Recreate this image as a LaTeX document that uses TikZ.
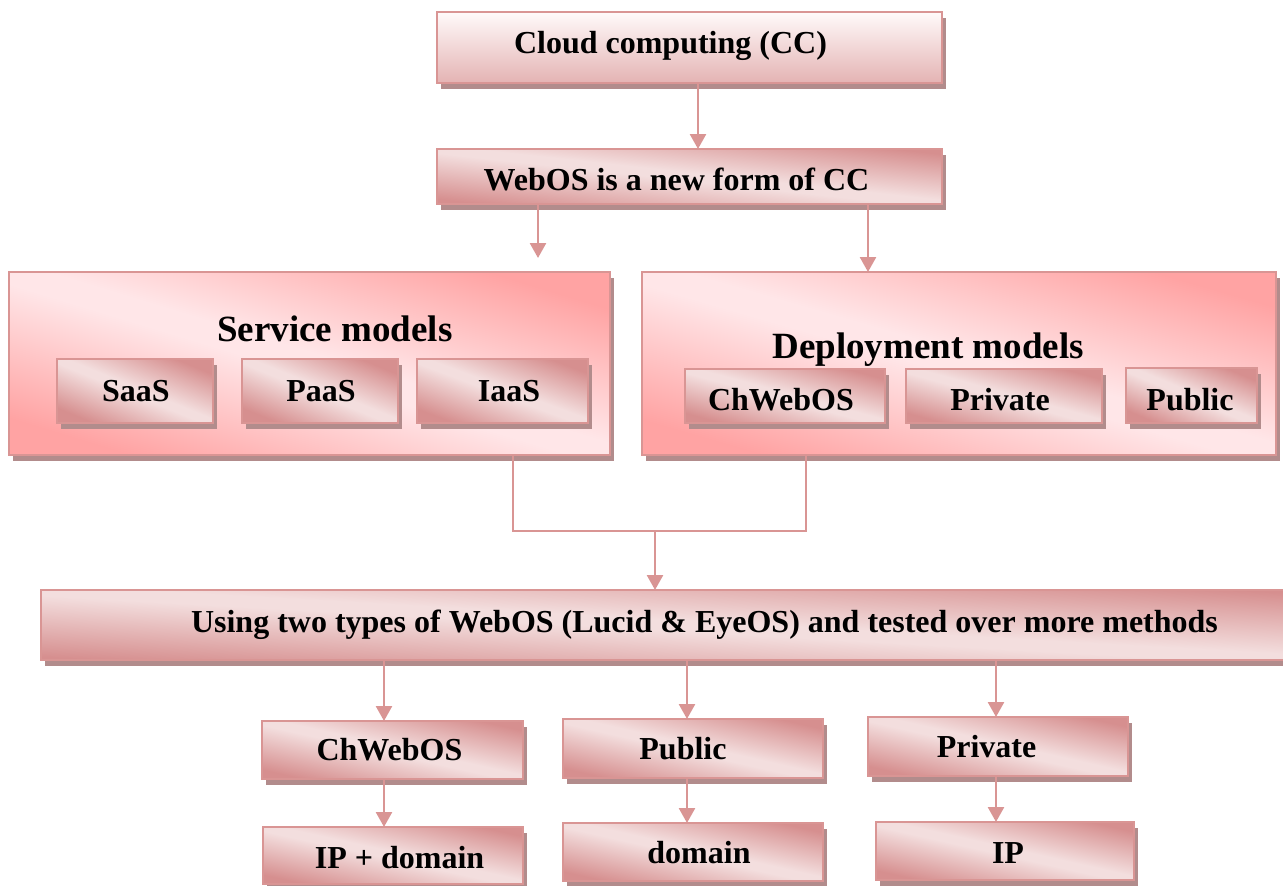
\documentclass[tikz,border=0pt]{standalone}
\usepackage{fontspec}
\setmainfont{Liberation Serif}
\usetikzlibrary{arrows.meta,shadows}
\definecolor{bd}{HTML}{D99594}
\definecolor{dk}{HTML}{D68F8F}
\definecolor{lt}{HTML}{F3DEDE}
\definecolor{cdk}{HTML}{FFA3A3}
\definecolor{clt}{HTML}{FFE6E8}
\definecolor{shd}{HTML}{B28C8C}
\definecolor{cctop}{HTML}{FFFAFA}
\definecolor{ccbot}{HTML}{E4B3B3}
\pgfdeclarehorizontalshading{diagsmall}{100bp}{color(0bp)=(dk); color(25bp)=(dk); color(48bp)=(lt); color(52bp)=(lt); color(75bp)=(dk); color(100bp)=(dk)}
\pgfdeclarehorizontalshading{diagbig}{100bp}{color(0bp)=(cdk); color(25bp)=(cdk); color(48bp)=(clt); color(52bp)=(clt); color(75bp)=(cdk); color(100bp)=(cdk)}
\newcommand\bx[6]{\pgfmathsetmacro\bxang{atan((#5-#3)/(#6-#4))}%
  \node[#2, minimum width={#5-#3}, minimum height={#6-#4}] (#1) at ({(#3+#5)/2},{(#4+#6)/2}) {};}
\begin{document}
\begin{tikzpicture}[x=1pt, y=-1pt,
  box/.style={draw=bd, line width=2pt, inner sep=0pt, outer sep=0pt,
    drop shadow={shadow xshift=3.5pt, shadow yshift=-6pt, fill=shd, opacity=1}},
  sbox/.style={box, shade, shading=diagsmall, shading angle=\bxang},
  cbox/.style={box, shade, shading=diagbig, shading angle=\bxang},
  topbox/.style={box, top color=cctop, bottom color=ccbot},
  lbl/.style={font=\bfseries\fontsize{32}{38}\selectfont, inner sep=0pt, anchor=base},
  ttl/.style={font=\bfseries\fontsize{37}{44}\selectfont, inner sep=0pt, anchor=base},
  ln/.style={draw=bd, line width=2.6pt},
  arr/.style={ln, -{Triangle[length=15pt,width=16pt]}}]
\useasboundingbox (0,0) rectangle (1283,886);
% boxes
\bx{cc}{topbox}{437}{12}{942}{83}
\bx{web}{sbox}{437}{149}{942}{204}
\bx{svc}{cbox}{9}{272}{610}{455}
\bx{dep}{cbox}{642}{272}{1276}{455}
\bx{saas}{sbox}{57}{359}{213}{423}
\bx{paas}{sbox}{242}{359}{398}{423}
\bx{iaas}{sbox}{417}{359}{588}{423}
\bx{dch}{sbox}{685}{369}{885}{423}
\bx{dpr}{sbox}{906}{369}{1102}{423}
\bx{dpu}{sbox}{1126}{368}{1257}{423}
\bx{big}{sbox}{41}{590}{1300}{660}
\bx{bch}{sbox}{262}{721}{523}{779}
\bx{bpu}{sbox}{563}{719}{823}{778}
\bx{bpr}{sbox}{868}{717}{1128}{776}
\bx{bip}{sbox}{263}{827}{523}{884}
\bx{bdo}{sbox}{563}{823}{823}{881}
\bx{bipp}{sbox}{876}{822}{1134}{880}
% texts
\node[lbl] (tcc) at (670.5,53) {Cloud computing (CC)};
\node[lbl] (tweb) at (676.5,190) {WebOS is a new form of CC};
\node[ttl] (tsvc) at (335,341) {Service models};
\node[ttl] (tdep) at (928,358) {Deployment models};
\node[lbl] (tsaas) at (136,401) {SaaS};
\node[lbl] (tpaas) at (321,401) {PaaS};
\node[lbl] (tiaas) at (509,401) {IaaS};
\node[lbl] (tdch) at (781,410) {ChWebOS};
\node[lbl] (tdpr) at (1000,410) {Private};
\node[lbl] (tdpu) at (1190,410) {Public};
\node[lbl] (tbig) at (704.5,632) {Using two types of WebOS (Lucid \& EyeOS) and tested over more methods};
\node[lbl] (tbch) at (389.5,760) {ChWebOS};
\node[lbl] (tbpu) at (683,759) {Public};
\node[lbl] (tbpr) at (986.5,757) {Private};
\node[lbl] (tbip) at (399.5,868) {IP + domain};
\node[lbl] (tbdo) at (699,863) {domain};
\node[lbl] (tbipp) at (1008,863) {IP};
% connector coordinates
\coordinate (k0) at (698,0);
\coordinate (k1) at (538,0);
\coordinate (k2) at (868,0);
\coordinate (f1) at (513,531);
\coordinate (f2) at (806,531);
\coordinate (j) at (655,531);
\coordinate (c1) at (384,0);
\coordinate (c2) at (687,0);
\coordinate (c3) at (996,0);
% connectors
\draw[arr] (cc.south -| k0) -- (web.north -| k0);
\draw[arr, shorten >=14pt] (web.south -| k1) -- (svc.north -| k1);
\draw[arr] (web.south -| k2) -- (dep.north -| k2);
\draw[ln] (svc.south -| f1) -- (f1) -- (f2) -- (dep.south -| f2);
\draw[arr] (j) -- (big.north -| j);
\draw[arr] (big.south -| c1) -- (bch.north -| c1);
\draw[arr] (big.south -| c2) -- (bpu.north -| c2);
\draw[arr] (big.south -| c3) -- (bpr.north -| c3);
\draw[arr] (bch.south -| c1) -- (bip.north -| c1);
\draw[arr] (bpu.south -| c2) -- (bdo.north -| c2);
\draw[arr] (bpr.south -| c3) -- (bipp.north -| c3);
\end{tikzpicture}
\end{document}
